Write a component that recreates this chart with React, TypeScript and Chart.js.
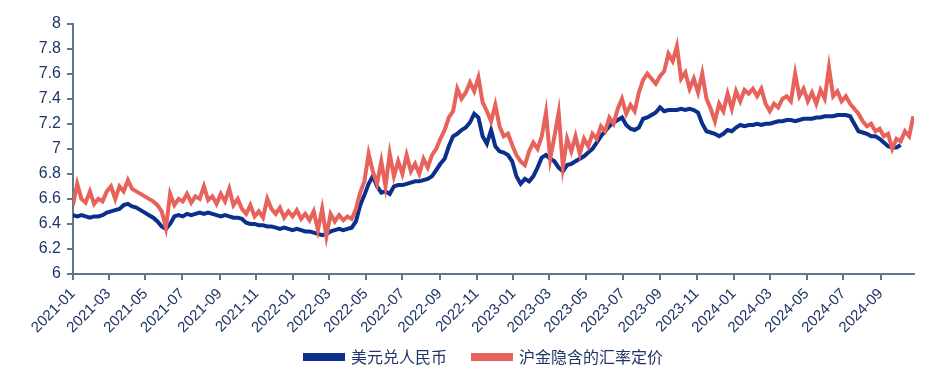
import React, { useEffect, useRef } from "react";
import { Chart, registerables } from "chart.js";

Chart.register(...registerables);

// Weekly observations starting on this date (one value every 7 days)
const startDate = "2021-01-01";
const stepDays = 7;
const axisEndDate = "2024-10-26";

const tickLabels = [
  "2021-01", "2021-03", "2021-05", "2021-07", "2021-09", "2021-11",
  "2022-01", "2022-03", "2022-05", "2022-07", "2022-09", "2022-11",
  "2023-01", "2023-03", "2023-05", "2023-07", "2023-09", "2023-11",
  "2024-01", "2024-03", "2024-05", "2024-07", "2024-09",
];

const seriesNames = ["美元兑人民币", "沪金隐含的汇率定价"];

// 美元兑人民币 (weekly)
const usdCny = [
  6.47, 6.46, 6.47, 6.46, 6.45, 6.46, 6.46, 6.47, 6.49, 6.50,
  6.51, 6.52, 6.55, 6.56, 6.54, 6.53, 6.51, 6.49, 6.47, 6.45,
  6.42, 6.38, 6.36, 6.40, 6.46, 6.47, 6.46, 6.48, 6.47, 6.48,
  6.49, 6.48, 6.49, 6.48, 6.47, 6.46, 6.47, 6.46, 6.45, 6.45,
  6.44, 6.41, 6.40, 6.40, 6.39, 6.39, 6.38, 6.38, 6.37, 6.36,
  6.37, 6.36, 6.35, 6.36, 6.35, 6.34, 6.34, 6.33, 6.32, 6.31,
  6.32, 6.34, 6.35, 6.36, 6.35, 6.36, 6.37, 6.42, 6.55, 6.63,
  6.72, 6.78, 6.70, 6.65, 6.66, 6.64, 6.70, 6.71, 6.71, 6.72,
  6.73, 6.74, 6.74, 6.75, 6.76, 6.78, 6.83, 6.88, 6.92, 7.02,
  7.10, 7.12, 7.15, 7.17, 7.21, 7.28, 7.25, 7.10, 7.04, 7.15,
  7.02, 6.98, 6.97, 6.95, 6.90, 6.78, 6.72, 6.76, 6.74, 6.78,
  6.85, 6.93, 6.95, 6.92, 6.90, 6.85, 6.82, 6.87, 6.88, 6.90,
  6.92, 6.94, 6.97, 7.00, 7.05, 7.10, 7.14, 7.18, 7.21, 7.23,
  7.25, 7.19, 7.16, 7.15, 7.17, 7.24, 7.25, 7.27, 7.29, 7.33,
  7.30, 7.31, 7.31, 7.31, 7.32, 7.31, 7.32, 7.31, 7.29, 7.20,
  7.14, 7.13, 7.12, 7.10, 7.12, 7.15, 7.14, 7.17, 7.19, 7.18,
  7.19, 7.19, 7.20, 7.19, 7.20, 7.20, 7.21, 7.22, 7.22, 7.23,
  7.23, 7.22, 7.23, 7.24, 7.24, 7.24, 7.25, 7.25, 7.26, 7.26,
  7.26, 7.27, 7.27, 7.27, 7.26, 7.20, 7.14, 7.13, 7.12, 7.10,
  7.10, 7.08, 7.05, 7.02, 7.01, 7.01, 7.03,
];

// 沪金隐含的汇率定价 (weekly)
const goldImplied = [
  6.55, 6.72, 6.60, 6.57, 6.66, 6.56, 6.60, 6.58, 6.66, 6.70,
  6.60, 6.70, 6.66, 6.75, 6.68, 6.66, 6.64, 6.62, 6.60, 6.58,
  6.55, 6.50, 6.37, 6.64, 6.55, 6.60, 6.58, 6.64, 6.57, 6.62,
  6.60, 6.70, 6.59, 6.62, 6.56, 6.64, 6.58, 6.68, 6.55, 6.60,
  6.52, 6.48, 6.55, 6.46, 6.50, 6.45, 6.60, 6.52, 6.48, 6.53,
  6.45, 6.50, 6.46, 6.51, 6.44, 6.48, 6.43, 6.50, 6.35, 6.52,
  6.30, 6.48, 6.42, 6.47, 6.43, 6.46, 6.44, 6.52, 6.65, 6.74,
  6.96, 6.82, 6.72, 6.90, 6.70, 6.96, 6.78, 6.90, 6.80, 6.95,
  6.82, 6.88, 6.80, 6.92, 6.85, 6.95, 7.00, 7.08, 7.15, 7.25,
  7.30, 7.48, 7.40, 7.45, 7.53, 7.46, 7.57, 7.37, 7.30, 7.22,
  7.35, 7.18, 7.10, 7.12, 7.03, 6.95, 6.90, 6.87, 6.98, 7.05,
  7.00, 7.10, 7.29, 6.92, 7.10, 7.29, 6.86, 7.08, 6.98, 7.10,
  6.96, 7.08, 7.02, 7.12, 7.08, 7.18, 7.14, 7.25, 7.20, 7.32,
  7.40, 7.28, 7.35, 7.30, 7.45, 7.55, 7.60, 7.56, 7.52, 7.58,
  7.62, 7.76, 7.70, 7.82, 7.56, 7.61, 7.48, 7.56, 7.45, 7.60,
  7.40, 7.32, 7.22, 7.36, 7.30, 7.44, 7.32, 7.46, 7.38, 7.47,
  7.44, 7.48, 7.42, 7.48, 7.36, 7.30, 7.36, 7.33, 7.40, 7.42,
  7.38, 7.60, 7.42, 7.48, 7.38, 7.45, 7.36, 7.47, 7.40, 7.65,
  7.42, 7.46, 7.38, 7.42, 7.36, 7.32, 7.28, 7.22, 7.18, 7.20,
  7.14, 7.16, 7.10, 7.12, 7.00, 7.08, 7.06, 7.14, 7.10, 7.26,
];

const DAY = 86400000;
const dayOffset = (s: string) => {
  const [y, m, d] = s.split("-").map(Number);
  const [y0, m0, d0] = startDate.split("-").map(Number);
  return Math.round((Date.UTC(y, m - 1, d || 1) - Date.UTC(y0, m0 - 1, d0)) / DAY);
};

const toPoints = (vals: number[]) => vals.map((v, i) => ({ x: i * stepDays, y: v }));

// shifts the bottom legend so it is centred under the plot area
const legendShift = {
  id: "legendShift",
  afterLayout(chart: any) {
    const lg = chart.legend;
    if (!lg) return;
    lg.left += 23;
    lg.right += 23;
  },
};

export default function App() {
  const ref = useRef<HTMLCanvasElement | null>(null);

  useEffect(() => {
    if (!ref.current) return;
    const tickDays = tickLabels.map((t) => dayOffset(t + "-01"));
    const labelByDay = new Map<number, string>();
    tickDays.forEach((d, i) => labelByDay.set(d, tickLabels[i]));
    const axisColor = "#5f7590";
    const textColor = "#1f3566";
    const defaultLabels = (Chart.defaults as any).plugins.legend.labels.generateLabels;

    const chart = new Chart(ref.current, {
      type: "line",
      plugins: [legendShift],
      data: {
        datasets: [
          {
            label: seriesNames[1],
            data: toPoints(goldImplied),
            borderColor: "#e8625c",
            backgroundColor: "#e8625c",
            borderWidth: 4,
            pointRadius: 0,
            tension: 0,
          },
          {
            label: seriesNames[0],
            data: toPoints(usdCny),
            borderColor: "#0a2f8c",
            backgroundColor: "#0a2f8c",
            borderWidth: 4,
            pointRadius: 0,
            tension: 0,
          },
        ],
      },
      options: {
        animation: false,
        responsive: true,
        maintainAspectRatio: false,
        layout: { padding: { left: 0, right: 27, top: 13, bottom: 2 } },
        plugins: {
          tooltip: { enabled: false },
          legend: {
            position: "bottom",
            labels: {
              generateLabels: (c: any) => {
                const items = defaultLabels(c);
                items.forEach((it: any) => {
                  if (it.datasetIndex === 1) it.text = it.text + "\u3000";
                });
                return items;
              },
              sort: (a: any, b: any) => b.datasetIndex - a.datasetIndex,
              boxWidth: 38,
              boxHeight: 4,
              padding: 10,
              color: textColor,
              font: { size: 16, family: "'Noto Sans CJK SC', 'Liberation Sans', sans-serif" },
            },
          },
        },
        scales: {
          x: {
            type: "linear",
            min: 0,
            max: dayOffset(axisEndDate),
            afterBuildTicks: (scale: any) => {
              scale.ticks = tickDays.map((v) => ({ value: v }));
            },
            afterFit: (scale: any) => {
              scale.height = 65;
            },
            grid: {
              drawOnChartArea: false,
              drawTicks: true,
              tickLength: 6,
              color: axisColor,
              lineWidth: 2,
            },
            border: { display: true, color: axisColor, width: 2 },
            ticks: {
              autoSkip: false,
              minRotation: 45,
              maxRotation: 45,
              padding: 5,
              color: textColor,
              font: { size: 15, family: "'Liberation Sans', Arial, sans-serif" },
              callback: (v: any) => labelByDay.get(Number(v)) ?? "",
            },
          },
          y: {
            min: 6,
            max: 8,
            afterFit: (scale: any) => {
              scale.width = 65;
            },
            grid: {
              drawOnChartArea: false,
              drawTicks: true,
              tickLength: 6,
              color: axisColor,
              lineWidth: 2,
            },
            border: { display: true, color: axisColor, width: 2 },
            ticks: {
              stepSize: 0.2,
              padding: 6,
              color: textColor,
              font: { size: 16, family: "'Liberation Sans', Arial, sans-serif" },
              callback: (v: any) => String(Number(Number(v).toFixed(1))),
            },
          },
        },
      },
    });
    return () => chart.destroy();
  }, []);

  return (
    <div style={{ width: "933px", height: "369px", position: "relative" }}>
      <canvas ref={ref} />
    </div>
  );
}
